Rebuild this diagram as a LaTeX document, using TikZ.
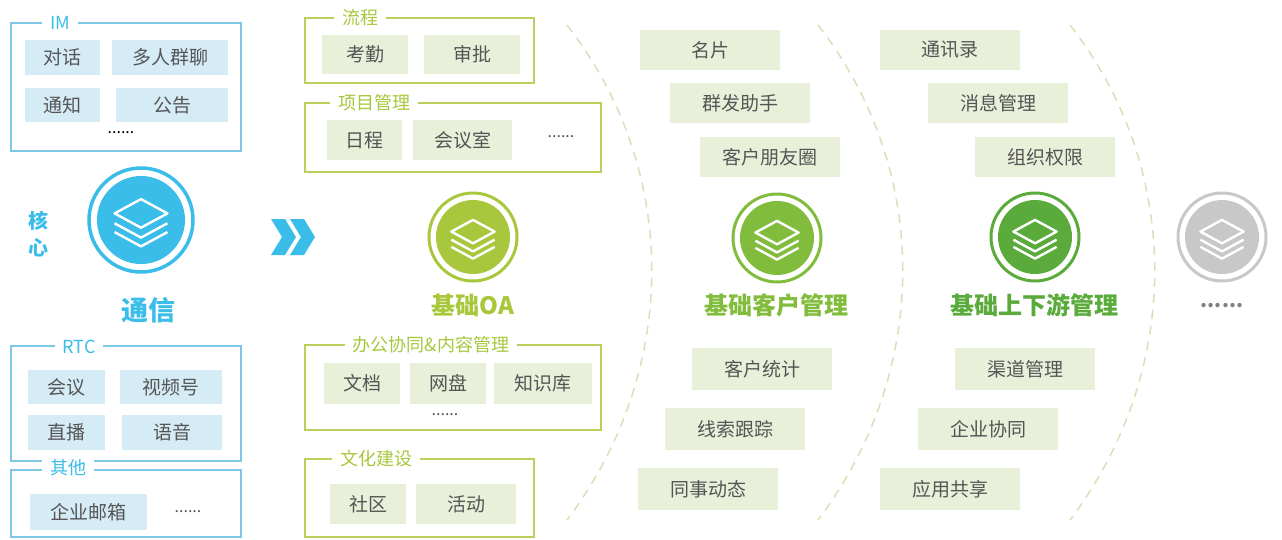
\documentclass[tikz,border=0pt]{standalone}
\usepackage{fontspec}
\setmainfont{Noto Sans CJK SC}
\begin{document}
\begin{tikzpicture}[x=1pt,y=-1pt,
 chipB/.style={fill=blueChip,inner sep=0,text=txt,font=\fontsize{19}{19}\selectfont},
 chipG/.style={fill=greenChip,inner sep=0,text=txt,font=\fontsize{19}{19}\selectfont},
 frameB/.style={draw=frameBlue,line width=1.3pt},
 frameG/.style={draw=frameGreen,line width=1.3pt},
 lab/.style={fill=white,inner xsep=8pt,inner ysep=0,font=\fontsize{18}{18}\selectfont},
 title/.style={font=\fontsize{24}{24}\selectfont\bfseries},
 arc/.style={draw=arcGreen,dash pattern=on 9pt off 7pt,line width=1.5pt},
 dots/.style={font=\fontsize{16}{16}\selectfont,text=txt}]
\definecolor{blueChip}{HTML}{D5ECF7}
\definecolor{greenChip}{HTML}{E9F0DA}
\definecolor{frameBlue}{HTML}{7CC8E6}
\definecolor{frameGreen}{HTML}{B9D05A}
\definecolor{arcGreen}{HTML}{D3E3B8}
\definecolor{txt}{HTML}{555555}
\definecolor{cBlue}{HTML}{3BBDE9}
\definecolor{cLime}{HTML}{A9C73D}
\definecolor{cGreen}{HTML}{82BC3D}
\definecolor{cDark}{HTML}{5AAB3B}
\definecolor{cGrey}{HTML}{C8C8C8}
\useasboundingbox (0,0) rectangle (1282,539);
\tikzset{stack/.pic={
 \draw[white,line width=2.4pt,line join=round] (-24,-6) -- (0,-19) -- (24,-6) -- (0,7) -- cycle;
 \draw[white,line width=2.4pt,line join=round] (-24,3) -- (0,16) -- (24,3);
 \draw[white,line width=2.4pt,line join=round] (-24,11) -- (0,24) -- (24,11);}}
% ---------- left blue
\draw[frameB] (11,23) rectangle (241,151);
\node[lab,text=cBlue] (lIM) at (60,23) {IM};
\node[chipB,minimum width=75pt,minimum height=35pt] (c1) at (62.5,57.5) {对话};
\node[chipB,minimum width=116pt,minimum height=35pt] (c2) at (170,57.5) {多人群聊};
\node[chipB,minimum width=75pt,minimum height=34pt] (c3) at (62.5,105) {通知};
\node[chipB,minimum width=112pt,minimum height=34pt] (c4) at (172,105) {公告};
\node[dots,text=black] (d1) at (121,133) {......};
\node[circle,draw=cBlue,line width=3.5pt,minimum size=104pt,inner sep=0] (core) at (141,220) {};
\fill[cBlue] (141,220) circle (44);
\pic[scale=1.1] at (141,220) {stack};
\node[text=cBlue,font=\fontsize{20}{20}\selectfont\bfseries] (h1) at (38,221) {核};
\node[text=cBlue,font=\fontsize{20}{20}\selectfont\bfseries] (h2) at (38,248) {心};
\node[text=cBlue,font=\fontsize{27}{27}\selectfont\bfseries] (tx) at (148,310) {通信};
\draw[frameB] (11,346) rectangle (241,461);
\node[lab,text=cBlue] (lRTC) at (79,347) {RTC};
\node[chipB,minimum width=77pt,minimum height=34pt] (r1) at (66.5,387) {会议};
\node[chipB,minimum width=102pt,minimum height=34pt] (r2) at (171,387) {视频号};
\node[chipB,minimum width=77pt,minimum height=35pt] (r3) at (66.5,432.5) {直播};
\node[chipB,minimum width=100pt,minimum height=35pt] (r4) at (172,432.5) {语音};
\draw[frameB] (11,478) -- (11,470) -- (241,470) -- (241,478);
\draw[frameB] (11,478) -- (11,537) -- (241,537) -- (241,478);
\node[lab,text=cBlue] (lQT) at (68,468) {其他};
\node[chipB,minimum width=117pt,minimum height=36pt] (q1) at (88.5,512) {企业邮箱};
\node[dots] (d2) at (188,512) {......};
% chevrons
\fill[cBlue] (271,219) -- (285,219) -- (296,237) -- (285,255) -- (271,255) -- (282,237) -- cycle;
\fill[cBlue] (290,219) -- (304,219) -- (315,237) -- (304,255) -- (290,255) -- (301,237) -- cycle;
% ---------- OA column
\draw[frameG] (305,18) rectangle (534,83);
\node[lab,text=cLime] (lLC) at (360,18) {流程};
\node[chipG,minimum width=86pt,minimum height=39pt] (o1) at (365,54.5) {考勤};
\node[chipG,minimum width=96pt,minimum height=39pt] (o2) at (472,54.5) {审批};
\draw[frameG] (305,103) rectangle (601,172);
\node[lab,text=cLime] (lXM) at (374,103) {项目管理};
\node[chipG,minimum width=75pt,minimum height=40pt] (o3) at (364.5,140) {日程};
\node[chipG,minimum width=99pt,minimum height=40pt] (o4) at (462.5,140) {会议室};
\node[dots] (d3) at (561,137) {......};
\node[circle,draw=cLime,line width=3pt,minimum size=88pt,inner sep=0] (oa) at (473,237) {};
\fill[cLime] (473,237) circle (37);
\pic[scale=0.9] at (473,237) {stack};
\node[title,text=cLime] (toa) at (473,305) {基础OA};
\draw[frameG] (305,345) rectangle (601,430);
\node[lab,text=cLime] (lBG) at (431,345) {办公协同\&内容管理};
\node[chipG,minimum width=76pt,minimum height=41pt] (o5) at (362,383.5) {文档};
\node[chipG,minimum width=76pt,minimum height=41pt] (o6) at (448,383.5) {网盘};
\node[chipG,minimum width=98pt,minimum height=41pt] (o7) at (543,383.5) {知识库};
\node[dots] (d4) at (445,415) {......};
\draw[frameG] (305,459) rectangle (534,537);
\node[lab,text=cLime] (lWH) at (376,459) {文化建设};
\node[chipG,minimum width=76pt,minimum height=40pt] (o8) at (368,504) {社区};
\node[chipG,minimum width=100pt,minimum height=40pt] (o9) at (466,504) {活动};
% ---------- arcs
\coordinate (a1s) at (567,25); \coordinate (a1e) at (567,520);
\coordinate (a2s) at (818,25); \coordinate (a2e) at (818,520);
\coordinate (a3s) at (1070,25); \coordinate (a3e) at (1070,520);
\draw[arc] (a1s) .. controls (680,170) and (680,370) .. (a1e);
\draw[arc] (a2s) .. controls (931,170) and (931,370) .. (a2e);
\draw[arc] (a3s) .. controls (1183,170) and (1183,370) .. (a3e);
% ---------- customer column
\tikzset{cc/.style={chipG,minimum width=140pt,minimum height=40pt}}
\node[cc] (k1) at (710,50) {名片};
\node[cc] (k2) at (740,103) {群发助手};
\node[cc] (k3) at (770,157) {客户朋友圈};
\node[circle,draw=cGreen,line width=3pt,minimum size=88pt,inner sep=0] (kc) at (777,238) {};
\fill[cGreen] (777,238) circle (37);
\pic[scale=0.9] at (777,238) {stack};
\node[title,text=cGreen] (tk) at (776,305) {基础客户管理};
\node[cc,minimum height=42pt] (k4) at (762,369) {客户统计};
\node[cc,minimum height=42pt] (k5) at (735,429) {线索跟踪};
\node[cc,minimum height=42pt] (k6) at (708,489) {同事动态};
% ---------- upstream column
\node[cc] (u1) at (950,50) {通讯录};
\node[cc] (u2) at (998,103) {消息管理};
\node[cc] (u3) at (1045,157) {组织权限};
\node[circle,draw=cDark,line width=3pt,minimum size=88pt,inner sep=0] (uc) at (1035,237) {};
\fill[cDark] (1035,237) circle (37);
\pic[scale=0.9] at (1035,237) {stack};
\node[title,text=cDark] (tu) at (1034,305) {基础上下游管理};
\node[cc,minimum height=42pt] (u4) at (1025,369) {渠道管理};
\node[cc,minimum height=42pt] (u5) at (988,429) {企业协同};
\node[cc,minimum height=42pt] (u6) at (950,489) {应用共享};
% ---------- grey
\node[circle,draw=cGrey,line width=3pt,minimum size=88pt,inner sep=0] (gc) at (1222,237) {};
\fill[cGrey] (1222,237) circle (37);
\pic[scale=0.9] at (1222,237) {stack};
\node[font=\fontsize{20}{20}\selectfont\bfseries,text=gray] (gd) at (1222,306) {......};
\end{tikzpicture}
\end{document}
